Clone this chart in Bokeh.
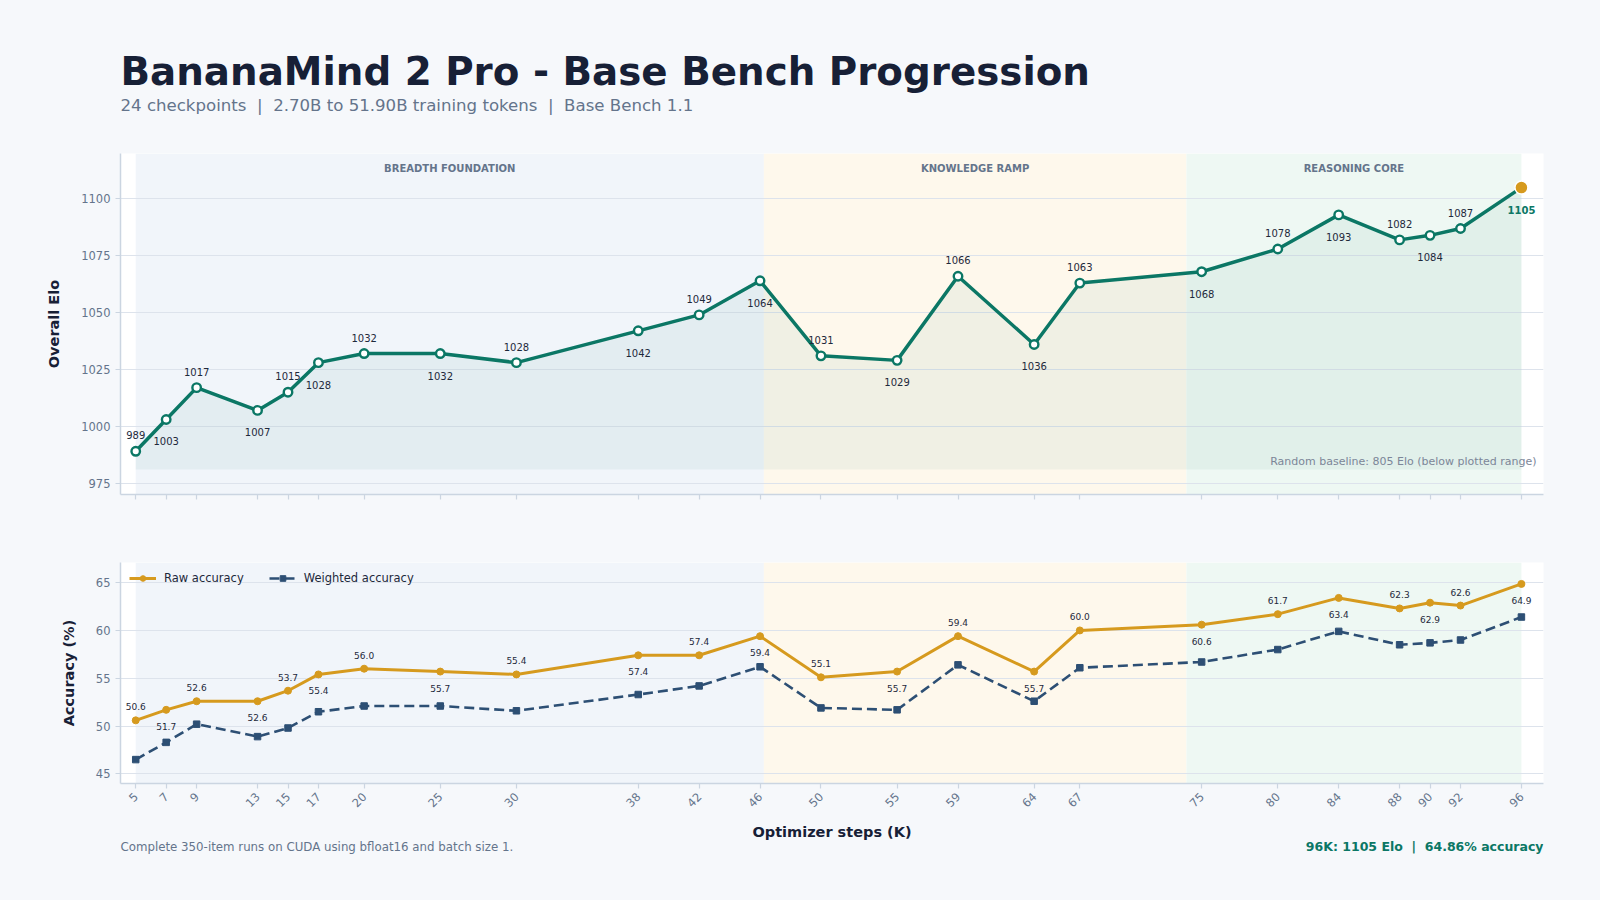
import math
from bokeh.plotting import figure
from bokeh.layouts import column
from bokeh.models import Range1d, FixedTicker, BoxAnnotation, Legend, LegendItem
from bokeh.core.properties import value
from bokeh.embed import file_html
from bokeh.resources import INLINE

# ---------------- data ----------------
steps = [5, 7, 9, 13, 15, 17, 20, 25, 30, 38, 42, 46, 50, 55, 59, 64, 67, 75, 80, 84, 88, 90, 92, 96]
elo = [989, 1003, 1017, 1007, 1015, 1028, 1032, 1032, 1028, 1042, 1049, 1064,
       1031, 1029, 1066, 1036, 1063, 1068, 1078, 1093, 1082, 1084, 1087, 1105]
raw_acc = [50.6, 51.7, 52.6, 52.6, 53.7, 55.4, 56.0, 55.7, 55.4, 57.4, 57.4, 59.4,
           55.1, 55.7, 59.4, 55.7, 60.0, 60.6, 61.7, 63.4, 62.3, 62.9, 62.6, 64.86]
weighted_acc = [46.5, 48.3, 50.2, 48.9, 49.8, 51.5, 52.1, 52.1, 51.6, 53.3, 54.2, 56.2,
                51.9, 51.7, 56.4, 52.6, 56.1, 56.7, 58.0, 59.9, 58.5, 58.7, 59.0, 61.4]
phase_names = ["BREADTH FOUNDATION", "KNOWLEDGE RAMP", "REASONING CORE"]
phase_edges = [5, 46.25, 74, 96]
elo_ticks = [975, 1000, 1025, 1050, 1075, 1100]
acc_ticks = [45, 50, 55, 60, 65]

NB = "\u00a0"
title_text = "BananaMind 2 Pro - Base Bench Progression"
subtitle_text = ("24 checkpoints " + NB + "|" + NB + " 2.70B to 51.90B training tokens "
                 + NB + "|" + NB + " Base Bench 1.1")
footer_left = "Complete 350-item runs on CUDA using bfloat16 and batch size 1."
footer_right = "96K: 1105 Elo " + NB + "|" + NB + " 64.86% accuracy"
baseline_note = "Random baseline: 805 Elo (below plotted range)"
x_label = "Optimizer steps (K)"

# ---------------- style ----------------
FONT = "DejaVu Sans"
PAGE_BG = "#f6f8fb"
TEAL = "#0b7765"
GOLD = "#d69a1e"
NAVY = "#2d4f74"
DARK = "#172036"
SLATE = "#64748b"
LABEL = "#1e293b"
GRID = "#dde3ec"
AXIS = "#cbd5e1"
phase_colors = ["#f1f5fa", "#fef8ec", "#eef8f3"]

BL, BR = 120, 49          # left / right borders around every frame
FRAME_W = 1423
W = BL + FRAME_W + BR
x_range = Range1d(4.0, 97.45)


def blank_fig(h):
    f = figure(width=W, height=h, x_range=Range1d(0, FRAME_W), y_range=Range1d(h, 0),
               toolbar_location=None, output_backend="svg",
               min_border_left=BL, min_border_right=BR, min_border_top=0, min_border_bottom=0,
               x_axis_location=None, y_axis_location=None)
    f.grid.visible = False
    f.outline_line_color = None
    f.background_fill_color = PAGE_BG
    f.border_fill_color = PAGE_BG
    return f


def style_axes(p, yticks, ylabel):
    p.background_fill_color = "white"
    p.border_fill_color = PAGE_BG
    p.outline_line_color = None
    p.xgrid.visible = False
    p.ygrid.grid_line_color = GRID
    p.ygrid.grid_line_width = 1
    p.yaxis.ticker = FixedTicker(ticks=yticks)
    p.xaxis.ticker = FixedTicker(ticks=steps)
    for ax in (p.xaxis[0], p.yaxis[0]):
        ax.axis_line_color = AXIS
        ax.axis_line_width = 1.5
        ax.major_tick_line_color = AXIS
        ax.major_tick_line_width = 1.2
        ax.major_tick_out = 5
        ax.major_tick_in = 0
        ax.minor_tick_line_color = None
        ax.major_label_text_font = FONT
        ax.major_label_text_font_size = "11.5px"
        ax.major_label_text_color = SLATE
        ax.axis_label_text_font = FONT
        ax.axis_label_text_font_style = "bold"
        ax.axis_label_text_font_size = "14.5px"
        ax.axis_label_text_color = DARK
    p.yaxis.axis_label = ylabel
    p.yaxis.major_label_standoff = 5
    p.yaxis.axis_label_standoff = 16
    for i in range(len(phase_names)):
        p.add_layout(BoxAnnotation(left=phase_edges[i], right=phase_edges[i + 1],
                                   fill_color=phase_colors[i], fill_alpha=1.0,
                                   line_color=None, level="image"))


# ---------------- header ----------------
header = blank_fig(140)
header.text(x=[0], y=[71.0], text=[title_text], text_font=value(FONT), text_font_style="bold",
            text_font_size="38.8px", text_color=DARK, text_baseline="middle", text_align="left")
header.text(x=[0], y=[105.0], text=[subtitle_text], text_font=value(FONT),
            text_font_size="16.6px", text_color=SLATE, text_baseline="middle", text_align="left")

# ---------------- top: Elo ----------------
top = figure(width=W, height=390, x_range=x_range, y_range=Range1d(970, 1120),
             toolbar_location=None, output_backend="svg",
             min_border_left=BL, min_border_right=BR, min_border_top=13, min_border_bottom=36)
style_axes(top, elo_ticks, "Overall Elo")
top.xaxis.major_label_overrides = {s: "" for s in steps}

fill_floor = 981
top.varea(x=steps, y1=[fill_floor] * len(steps), y2=elo, fill_color=TEAL, fill_alpha=0.06)
top.line(steps, elo, line_color=TEAL, line_width=3.5)
top.scatter(steps[:-1], elo[:-1], size=8.5, marker="circle", fill_color="white",
            line_color=TEAL, line_width=2.4)
top.scatter([steps[-1]], [elo[-1]], size=13, marker="circle", fill_color=GOLD,
            line_color="white", line_width=1.5)

up_idx = [i for i in range(len(steps) - 1) if i % 2 == 0]
dn_idx = [i for i in range(len(steps) - 1) if i % 2 == 1]
top.text(x=[steps[i] for i in up_idx], y=[elo[i] for i in up_idx], text=[str(elo[i]) for i in up_idx],
         text_font=value(FONT), text_font_size="10px", text_color=LABEL,
         text_align="center", text_baseline="bottom", y_offset=-12)
top.text(x=[steps[i] for i in dn_idx], y=[elo[i] for i in dn_idx], text=[str(elo[i]) for i in dn_idx],
         text_font=value(FONT), text_font_size="10px", text_color=LABEL,
         text_align="center", text_baseline="top", y_offset=18)
top.text(x=[steps[-1]], y=[elo[-1]], text=[str(elo[-1])], text_font=value(FONT),
         text_font_style="bold", text_font_size="10px", text_color=TEAL,
         text_align="center", text_baseline="top", y_offset=18)

centers = [(phase_edges[i] + phase_edges[i + 1]) / 2 for i in range(len(phase_names))]
top.text(x=centers, y=[1120] * 3, text=phase_names, text_font=value(FONT), text_font_style="bold",
         text_font_size="10px", text_color=SLATE, text_align="center", text_baseline="middle",
         y_offset=15)
top.text(x=[97.45], y=[984.4], text=[baseline_note], text_font=value(FONT), text_font_size="11px",
         text_color="#7c8698", text_align="right", text_baseline="middle", x_offset=-7)

# ---------------- bottom: accuracy ----------------
bot = figure(width=W, height=287, x_range=x_range, y_range=Range1d(44.0, 67.1),
             toolbar_location=None, output_backend="svg",
             min_border_left=BL, min_border_right=BR, min_border_top=32, min_border_bottom=34)
style_axes(bot, acc_ticks, "Accuracy (%)")
bot.xaxis.major_label_orientation = math.pi / 4
bot.xaxis.major_label_standoff = 6

r_line = bot.line(steps, raw_acc, line_color=GOLD, line_width=3)
r_mark = bot.scatter(steps, raw_acc, marker="circle", size=7, fill_color=GOLD, line_color=GOLD)
w_line = bot.line(steps, weighted_acc, line_color=NAVY, line_width=2.6, line_dash="10 5")
w_mark = bot.scatter(steps, weighted_acc, marker="square", size=6.5, fill_color=NAVY, line_color=NAVY)

a_up = [i for i in range(len(steps)) if i % 2 == 0]
a_dn = [i for i in range(len(steps)) if i % 2 == 1]
bot.text(x=[steps[i] for i in a_up], y=[raw_acc[i] for i in a_up],
         text=[f"{raw_acc[i]:.1f}" for i in a_up], text_font=value(FONT), text_font_size="9px",
         text_color=LABEL, text_align="center", text_baseline="bottom", y_offset=-10)
bot.text(x=[steps[i] for i in a_dn], y=[raw_acc[i] for i in a_dn],
         text=[f"{raw_acc[i]:.1f}" for i in a_dn], text_font=value(FONT), text_font_size="9px",
         text_color=LABEL, text_align="center", text_baseline="top", y_offset=13)

legend = Legend(items=[LegendItem(label="Raw accuracy", renderers=[r_line, r_mark]),
                       LegendItem(label="Weighted accuracy", renderers=[w_line, w_mark])],
                location="top_left", orientation="horizontal",
                background_fill_alpha=0, border_line_alpha=0,
                label_text_font=FONT, label_text_font_size="11.5px", label_text_color=LABEL,
                glyph_width=27, glyph_height=14, label_height=14, label_standoff=8,
                spacing=25, margin=2, padding=7)
bot.add_layout(legend)

# ---------------- footer (x-axis title + notes) ----------------
footer = blank_fig(75)
footer.text(x=[FRAME_W / 2], y=[14.6], text=[x_label], text_font=value(FONT), text_font_style="bold",
            text_font_size="14.5px", text_color=DARK, text_align="center", text_baseline="middle")
footer.text(x=[0], y=[29], text=[footer_left], text_font=value(FONT), text_font_size="11.8px",
            text_color=SLATE, text_align="left", text_baseline="middle")
footer.text(x=[FRAME_W], y=[29], text=[footer_right], text_font=value(FONT), text_font_style="bold",
            text_font_size="12.5px", text_color=TEAL, text_align="right", text_baseline="middle")

layout = column(header, top, bot, footer, spacing=0)
layout.background = PAGE_BG

html = file_html(layout, INLINE, title="BananaMind 2 Pro - Base Bench Progression")
html = html.replace("</head>", "<style>html,body{background:%s;}</style></head>" % PAGE_BG, 1)
open("out.html", "w").write(html)
